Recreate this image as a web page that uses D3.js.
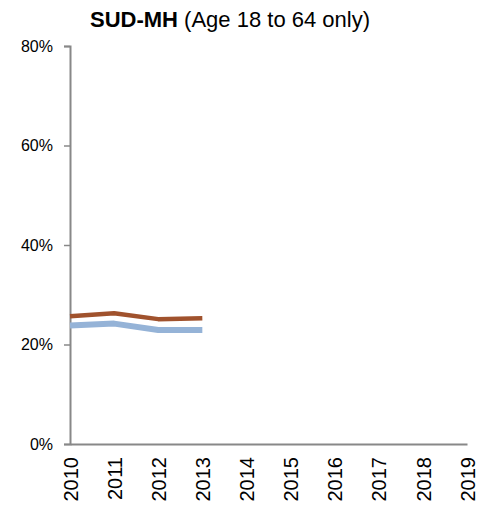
<!DOCTYPE html>
<html><head><meta charset="utf-8">
<script src="https://cdn.jsdelivr.net/npm/d3@7"></script>
<style>body{margin:0;background:#fff;} text{font-family:"Liberation Sans",Arial,sans-serif;}</style>
</head><body>
<svg id="c" width="487" height="507"></svg>
<script>
const years = [2010,2011,2012,2013,2014,2015,2016,2017,2018,2019];
const yTicks = [0,0.2,0.4,0.6,0.8];
const seriesBrownYears = [2010,2011,2012,2013];
const seriesBrown = [0.257,0.263,0.251,0.253];
const seriesBlueYears = [2010,2011,2012,2013];
const seriesBlue = [0.238,0.242,0.229,0.229];

const svg = d3.select("#c");
const x = d3.scaleLinear().domain([2010,2019]).range([70,467]);
const y = d3.scaleLinear().domain([0,0.8]).range([444,46]);

const yAxis = d3.axisLeft(y).tickValues(yTicks).tickFormat(d3.format(".0%")).tickSize(6).tickPadding(11);
const gy = svg.append("g").attr("transform","translate(70,0)").call(yAxis);
gy.select(".domain").attr("stroke","#888").attr("stroke-width",2);
gy.selectAll(".tick line").attr("stroke","#888").attr("stroke-width",1.5);
gy.selectAll(".tick text").attr("font-size",16).attr("fill","#000").style("font-family","Liberation Sans, Arial, sans-serif");

const xAxis = d3.axisBottom(x).tickValues(years).tickFormat(d3.format("d")).tickSize(0).tickSizeOuter(0);
const gx = svg.append("g").attr("transform","translate(0,444)").call(xAxis);
gx.select(".domain").attr("stroke","#888").attr("stroke-width",2);
gx.selectAll(".tick text")
  .attr("font-size",20).attr("fill","#000")
  .style("font-family","Liberation Sans, Arial, sans-serif")
  .attr("text-anchor","end")
  .attr("transform","rotate(-90)")
  .attr("x",-13).attr("y",0).attr("dy","0.36em");

const line = d3.line().x(d=>x(d[0])).y(d=>y(d[1]));
svg.append("path").datum(seriesBlueYears.map((yr,i)=>[yr,seriesBlue[i]]))
  .attr("d",line).attr("fill","none").attr("stroke","#95B3D7").attr("stroke-width",6).attr("stroke-linejoin","round");
svg.append("path").datum(seriesBrownYears.map((yr,i)=>[yr,seriesBrown[i]]))
  .attr("d",line).attr("fill","none").attr("stroke","#A0522D").attr("stroke-width",4.5).attr("stroke-linejoin","round");

const t = svg.append("text").attr("x",230).attr("y",27).attr("text-anchor","middle").attr("font-size",22).attr("fill","#000");
t.append("tspan").attr("font-weight","bold").text("SUD-MH");
t.append("tspan").text(" (Age 18 to 64 only)");
</script>
</body></html>
